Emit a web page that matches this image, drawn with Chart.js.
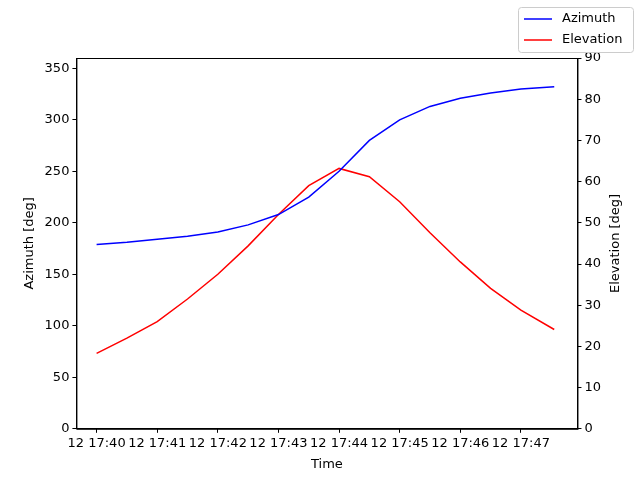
<!DOCTYPE html>
<html><head><meta charset="utf-8">
<script src="https://cdn.jsdelivr.net/npm/chart.js@4"></script>
<style>body{margin:0;background:#fff}#wrap{width:640px;height:480px}</style>
</head><body><div id="wrap"><canvas id="c"></canvas></div>
<script>
// minutes after 17:40
const minutes = [0,0.5,1,1.5,2,2.5,3,3.5,4,4.5,5,5.5,6,6.5,7,7.55];
const azimuth = [179,181,184,187,191,198,208,225,250,280,300,313,321,326,330,332];
const elevation = [18.3,22,26,31.5,37.5,44.4,52,59,63.2,61.2,55.1,47.6,40.5,34.1,28.8,24.1];
const xTicks = [0,1,2,3,4,5,6,7];
const azTicks = [0,50,100,150,200,250,300,350];

Chart.defaults.font.family = 'DejaVu Sans';
Chart.defaults.font.size = 13;
Chart.defaults.color = '#000';

// box around plot, right axis title, legend in the top right corner
const frameAndLegend = {
  id: 'frameAndLegend',
  afterDraw(chart) {
    const { ctx, chartArea: a } = chart;
    ctx.save();
    ctx.strokeStyle = '#000'; ctx.lineWidth = 1;
    ctx.strokeRect(a.left + 0.5, a.top + 0.5, a.right - a.left, a.bottom - a.top);
    ctx.font = '13px DejaVu Sans'; ctx.fillStyle = '#000';
    ctx.save();
    ctx.translate(616, (a.top + a.bottom) / 2); ctx.rotate(-Math.PI / 2);
    ctx.textAlign = 'center'; ctx.textBaseline = 'middle';
    ctx.fillText('Elevation [deg]', 0, 0);
    ctx.restore();
    const x = 518, y = 7, w = 115, h = 45;
    ctx.strokeStyle = '#ccc'; ctx.fillStyle = 'rgba(255,255,255,0.8)';
    ctx.beginPath(); ctx.roundRect(x + 0.5, y + 0.5, w, h, 3); ctx.fill(); ctx.stroke();
    ctx.textBaseline = 'middle';
    chart.data.datasets.forEach((ds, i) => {
      const ly = y + 12 + i * 21;
      ctx.strokeStyle = ds.borderColor; ctx.lineWidth = 1.5;
      ctx.beginPath(); ctx.moveTo(x + 6, ly); ctx.lineTo(x + 34, ly); ctx.stroke();
      ctx.fillStyle = '#000'; ctx.fillText(ds.label, x + 44, ly);
    });
    ctx.restore();
  }
};

const tickGrid = { display: true, drawOnChartArea: false, tickLength: 4, color: '#000' };

new Chart(document.getElementById('c'), {
  type: 'line',
  data: {
    datasets: [
      { label: 'Azimuth', data: minutes.map((m, i) => ({ x: m, y: azimuth[i] })),
        borderColor: '#0000ff', borderWidth: 1.5, pointRadius: 0, yAxisID: 'y' },
      { label: 'Elevation', data: minutes.map((m, i) => ({ x: m, y: elevation[i] })),
        borderColor: '#ff0000', borderWidth: 1.5, pointRadius: 0, yAxisID: 'y2' },
    ]
  },
  options: {
    responsive: true, maintainAspectRatio: false, animation: false,
    layout: { padding: { top: 58, left: 18, right: 36, bottom: 6 } },
    plugins: { legend: { display: false }, tooltip: { enabled: false } },
    scales: {
      x: {
        type: 'linear', min: -0.333, max: 7.933,
        afterBuildTicks: ax => { ax.ticks = xTicks.map(v => ({ value: v })); },
        ticks: { autoSkip: false, maxRotation: 0, callback: v => '12 17:4' + v },
        grid: tickGrid, border: { color: '#000' },
        title: { display: true, text: 'Time', padding: 2 }
      },
      y: {
        position: 'left', min: 0, max: 360,
        afterBuildTicks: ax => { ax.ticks = azTicks.map(v => ({ value: v })); },
        grid: tickGrid, border: { color: '#000' },
        title: { display: true, text: 'Azimuth [deg]' }
      },
      y2: {
        position: 'right', min: 0, max: 90,
        ticks: { stepSize: 10 },
        grid: tickGrid, border: { color: '#000' }
      }
    }
  },
  plugins: [frameAndLegend]
});
</script></body></html>
